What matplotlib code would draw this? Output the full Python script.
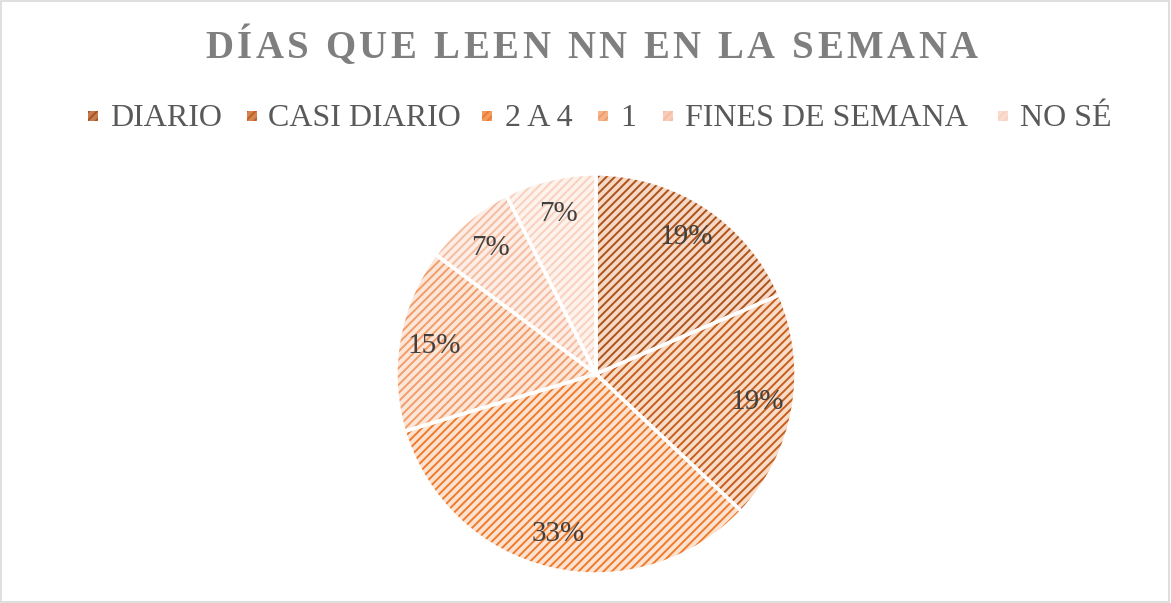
import matplotlib
matplotlib.use("Agg")
import matplotlib.pyplot as plt
from matplotlib.patches import Rectangle

# ---- data ----
title = "DÍAS QUE LEEN NN EN LA SEMANA"
categories = ["DIARIO", "CASI DIARIO", "2 A 4", "1", "FINES DE SEMANA", "NO SÉ"]
counts = [5, 5, 9, 4, 2, 2]

# ---- styles ----
face_colors = ["#F5D9C6", "#F8DCC8", "#FCE2D0", "#FCE6D8", "#FDEDE4", "#FEF2EC"]
hatch_colors = ["#AD5219", "#C45E1C", "#EE7A2C", "#F19C69", "#F5BCA1", "#F8D1BF"]

plt.rcParams["font.family"] = ["Liberation Serif", "DejaVu Serif"]
plt.rcParams["hatch.linewidth"] = 1.4

W, H = 1171, 603
fig = plt.figure(figsize=(W / 100, H / 100), dpi=100)
fig.patch.set_facecolor("white")

# border
fig.add_artist(Rectangle((0.0005, 0.001), 0.998, 0.997, transform=fig.transFigure,
                         fill=False, edgecolor="#D9D9D9", linewidth=1.2))

HATCH = "////"

# ---- pie ----
cx, cy, R = 596, 374, 202
ax = fig.add_axes([(cx - R) / W, (H - cy - R) / H, 2 * R / W, 2 * R / H])
wedges, texts, autotexts = ax.pie(
    counts, startangle=90, counterclock=False, radius=1.0,
    colors=face_colors, autopct=lambda p: f"{p:.0f}%", pctdistance=0.82,
    wedgeprops=dict(linewidth=0), textprops=dict(fontsize=21, color="#404040"))
for w, hc in zip(wedges, hatch_colors):
    w.set_hatch(HATCH)
    w.set_edgecolor(hc)
    w.set_linewidth(0)
# white separators
wedges2, _ = ax.pie(counts, startangle=90, counterclock=False, radius=1.0,
                    colors=["none"] * len(counts),
                    wedgeprops=dict(linewidth=2.5, edgecolor="white", fill=False))
for t in autotexts:
    t.set_zorder(10)
ax.set_xlim(-1.01, 1.01)
ax.set_ylim(-1.01, 1.01)
ax.set_aspect("equal")
ax.axis("off")

# ---- title with letter spacing ----
renderer = fig.canvas.get_renderer()
tprops = dict(fontsize=28, fontweight="bold", color="#7F7F7F")
def char_width(ch):
    if ch == " ":
        a = fig.text(0, 0, "ab", **tprops); b = fig.text(0, 0, "a b", **tprops)
        wv = b.get_window_extent(renderer).width - a.get_window_extent(renderer).width
        a.remove(); b.remove()
        return wv
    t = fig.text(0, 0, ch, **tprops)
    wv = t.get_window_extent(renderer).width
    t.remove()
    return wv
widths = [char_width(c) for c in title]
target_left, target_right = 205, 978
spacing = (target_right - target_left - sum(widths)) / (len(title) - 1)
x = target_left
title_y = H - 48
for c, wv in zip(title, widths):
    if c != " ":
        fig.text(x / W, title_y / H, c, ha="left", va="center", **tprops)
    x += wv + spacing

# ---- legend ----
marker_x = [93, 252, 487, 603, 668, 1003]
text_x = [110, 268, 505, 620, 685, 1020]
leg_y = H - 118
for i, (cat, fc, hc) in enumerate(zip(categories, face_colors, hatch_colors)):
    mx = marker_x[i]
    base = Rectangle(((mx - 5) / W, (leg_y - 3) / H), 10 / W, 10 / H, transform=fig.transFigure,
                     facecolor=hc, edgecolor="none", alpha=0.75, linewidth=0)
    fig.add_artist(base)
    sq = Rectangle(((mx - 5) / W, (leg_y - 3) / H), 10 / W, 10 / H, transform=fig.transFigure,
                   facecolor="none", edgecolor=hc, hatch=HATCH, linewidth=0)
    fig.add_artist(sq)
    fig.text(text_x[i] / W, leg_y / H, cat, ha="left", va="center",
             fontsize=23, color="#595959")

fig.savefig("out.png", dpi=100)
